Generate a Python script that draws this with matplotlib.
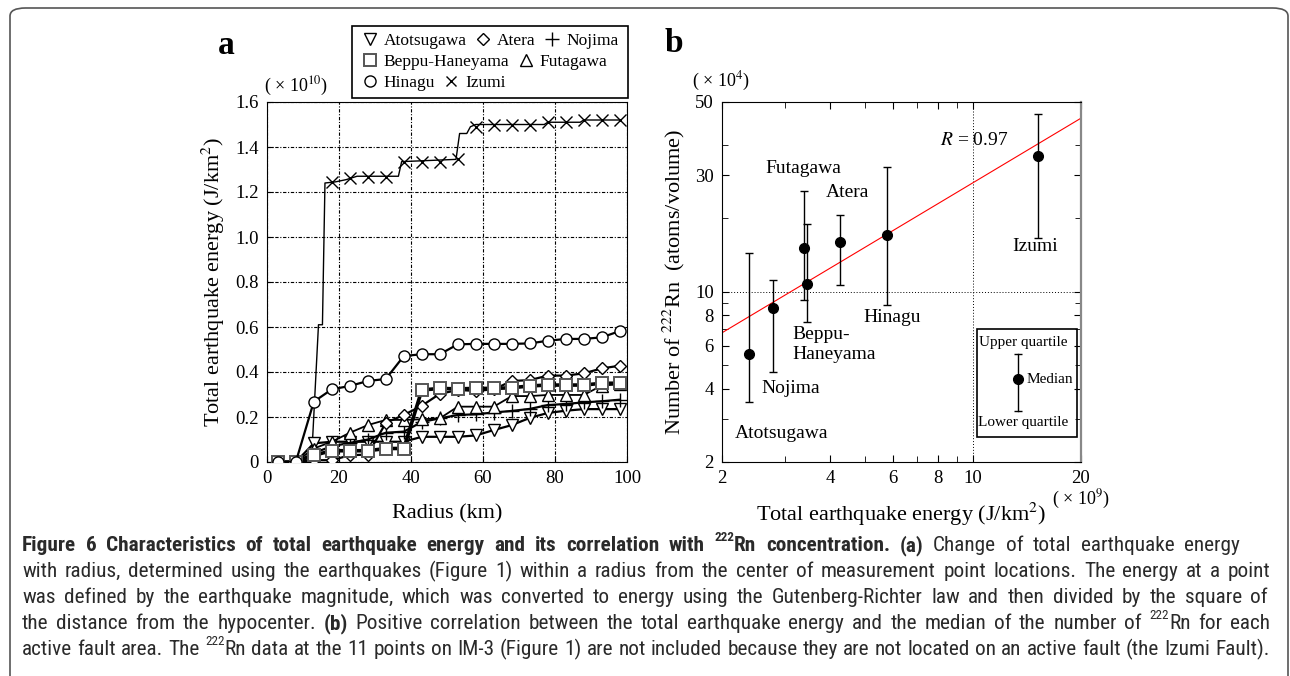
import matplotlib
matplotlib.use("Agg")
from matplotlib import pyplot as plt
from matplotlib import font_manager
from matplotlib.lines import Line2D
from matplotlib.patches import Rectangle, FancyBboxPatch
from matplotlib.ticker import FixedLocator, FixedFormatter, NullFormatter
import numpy as np

plt.rcParams['font.family'] = ['Liberation Serif', 'DejaVu Sans']
plt.rcParams['mathtext.fontset'] = 'stix'

W, H, DPI = 1290, 676, 100

# ---- panel a: cumulative energy vs radius (x 1e10 J/km2)
radius = [3, 8, 13, 18, 23, 28, 33, 38, 43, 48, 53, 58, 63, 68, 73, 78, 83, 88, 93, 98]
atotsugawa = [0, 0, 0.083, 0.09, 0.09, 0.09, 0.09, 0.09, 0.112, 0.112, 0.112, 0.118, 0.142, 0.164,
              0.196, 0.218, 0.228, 0.235, 0.235, 0.235]
atera = [0, 0, 0.008, 0.008, 0.03, 0.033, 0.174, 0.209, 0.25, 0.303, 0.32, 0.316, 0.323, 0.36,
         0.364, 0.384, 0.384, 0.394, 0.416, 0.428]
nojima = [0, 0, 0.04, 0.07, 0.085, 0.1, 0.13, 0.135, 0.178, 0.194, 0.209, 0.212, 0.22, 0.227,
          0.236, 0.253, 0.258, 0.265, 0.27, 0.277]
beppu = [0, 0, 0.03, 0.05, 0.05, 0.05, 0.06, 0.06, 0.32, 0.327, 0.325, 0.327, 0.327, 0.33,
         0.338, 0.342, 0.342, 0.342, 0.35, 0.35]
futagawa = [0, 0, 0.06, 0.09, 0.13, 0.164, 0.187, 0.187, 0.19, 0.194, 0.246, 0.246, 0.246, 0.293,
            0.293, 0.298, 0.298, 0.298, 0.34, 0.345]
hinagu = [0, 0, 0.268, 0.323, 0.338, 0.36, 0.369, 0.471, 0.479, 0.479, 0.523, 0.525, 0.525, 0.525,
          0.527, 0.539, 0.547, 0.547, 0.554, 0.582]
izumi = [0, 0, 0.03, 1.243, 1.261, 1.268, 1.268, 1.335, 1.335, 1.335, 1.345, 1.49, 1.50, 1.50,
         1.50, 1.512, 1.512, 1.52, 1.52, 1.52]
# Izumi curve is a finer step line than its markers
izumi_line_r = [3, 8, 11, 12.5, 14.3, 15.4, 16.1, 19, 22, 25, 36.5, 37.4, 52.5, 53.5, 55.5, 56.5,
                58, 77, 78, 87, 88, 98]
izumi_line_e = [0, 0, 0, 0.05, 0.61, 0.61, 1.24, 1.245, 1.255, 1.27, 1.27, 1.335, 1.345, 1.46,
                1.46, 1.49, 1.50, 1.50, 1.51, 1.51, 1.52, 1.52]

# ---- panel b: Rn vs energy (x 1e9 J/km2, x 1e4 atoms/volume)
areas = ['Atotsugawa', 'Nojima', 'Futagawa', 'Beppu-Haneyama', 'Atera', 'Hinagu', 'Izumi']
energy = [2.38, 2.77, 3.38, 3.44, 4.25, 5.78, 15.2]
rn_median = [5.55, 8.54, 15.05, 10.75, 15.93, 17.07, 36.1]
rn_upper = [14.4, 11.2, 25.9, 19.0, 20.6, 32.5, 53.8]
rn_lower = [3.52, 4.70, 9.27, 7.53, 10.6, 8.82, 16.6]
fit_x = [2, 20]
fit_y = [6.78, 51.5]

fig = plt.figure(figsize=(W / DPI, H / DPI), dpi=DPI)


def fx(px):
    return px / W


def fy(py):
    return 1 - py / H


# outer rounded frame
fig.patches.append(FancyBboxPatch((fx(10), fy(700)), fx(1278), 692 / H,
                                  boxstyle="round,pad=0,rounding_size=0.012",
                                  transform=fig.transFigure, fill=False,
                                  edgecolor='#555555', lw=1.2))

# ================= panel a
axa = fig.add_axes([fx(267), fy(462), 360 / W, 360 / H])
axa.plot(izumi_line_r, izumi_line_e, color='k', lw=1.0, zorder=2)
axa.plot(radius, izumi, ls='none', marker='x', ms=8, mec='k', mew=1.0, zorder=3)
styles = [
    (atotsugawa, 'v', 8, 'k', 1.6),
    (nojima, '+', 10, 'k', 1.6),
    (futagawa, '^', 8, 'k', 1.3),
    (atera, 'D', 6.5, 'k', 1.6),
    (beppu, 's', 8, '#555555', 2.6),
    (hinagu, 'o', 8, 'k', 1.6),
]
for vals, m, ms, ec, lw in styles:
    axa.plot(radius, vals, color='k', lw=lw, marker=m, ms=ms, mfc='white', mec=ec,
             mew=1.4 if m == 's' else 1.0, zorder=3)

axa.set_xlim(0, 100)
axa.set_ylim(0, 1.6)
axa.set_xticks([0, 20, 40, 60, 80, 100])
axa.set_yticks([0, 0.2, 0.4, 0.6, 0.8, 1.0, 1.2, 1.4, 1.6])
axa.set_yticklabels(['0', '0.2', '0.4', '0.6', '0.8', '1.0', '1.2', '1.4', '1.6'])
axa.tick_params(direction='in', length=4, labelsize=13.5, pad=6)
axa.grid(True, color='k', lw=0.8, ls=(0, (3, 1.5, 1, 1.5)))
axa.set_axisbelow(True)
axa.set_xlabel('Radius (km)', fontsize=16, labelpad=12)
axa.set_ylabel('Total earthquake energy (J/km$^2$)', fontsize=16, labelpad=6)
fig.text(fx(296), fy(86), '( × 10$^{10}$)', fontsize=13, ha='center', va='center')
fig.text(fx(226), fy(45), 'a', fontsize=24, fontweight='bold', ha='center', va='center')

# legend box of panel a, three irregular rows
fig.patches.append(Rectangle((fx(352), fy(98)), 276 / W, 72 / H, transform=fig.transFigure,
                             fill=False, edgecolor='k', lw=1.2, zorder=5))
h = {
    'Atotsugawa': Line2D([], [], ls='none', marker='v', ms=8, mfc='white', mec='k'),
    'Atera': Line2D([], [], ls='none', marker='D', ms=6.5, mfc='white', mec='k'),
    'Nojima': Line2D([], [], ls='none', marker='+', ms=10, mec='k'),
    'Beppu-Haneyama': Line2D([], [], ls='none', marker='s', ms=8, mfc='white', mec='#555555', mew=1.4),
    'Futagawa': Line2D([], [], ls='none', marker='^', ms=8, mfc='white', mec='k'),
    'Hinagu': Line2D([], [], ls='none', marker='o', ms=8, mfc='white', mec='k'),
    'Izumi': Line2D([], [], ls='none', marker='x', ms=7, mec='k'),
}
rows = [(['Atotsugawa', 'Atera', 'Nojima'], 41), (['Beppu-Haneyama', 'Futagawa'], 62),
        (['Hinagu', 'Izumi'], 83)]
for names, ypx in rows:
    fig.legend([h[n] for n in names], names, loc='center left',
               bbox_to_anchor=(fx(361), fy(ypx)), ncol=len(names), frameon=False,
               fontsize=12.5, handlelength=1.0, handletextpad=0.3, columnspacing=0.45,
               borderpad=0, borderaxespad=0)

# ================= panel b
axb = fig.add_axes([fx(722), fy(462), 359 / W, 360 / H])
axb.set_xscale('log')
axb.set_yscale('log')
err = [np.array(rn_median) - np.array(rn_lower), np.array(rn_upper) - np.array(rn_median)]
axb.errorbar(energy, rn_median, yerr=err, fmt='o', color='k', ms=7, elinewidth=1.0,
             capsize=2.6, capthick=1.0, zorder=3)
axb.plot(fit_x, fit_y, color='red', lw=0.8, zorder=2)
axb.axvline(10, color='k', lw=0.7, ls=(0, (1, 2)), zorder=1)
axb.axhline(10, color='k', lw=0.7, ls=(0, (1, 2)), zorder=1)

axb.set_xlim(2, 20)
axb.set_ylim(2, 60)
axb.xaxis.set_major_locator(FixedLocator([2, 4, 6, 8, 10, 20]))
axb.xaxis.set_major_formatter(FixedFormatter(['2', '4', '6', '8', '10', '20']))
axb.xaxis.set_minor_locator(FixedLocator([3, 5, 7, 9]))
axb.xaxis.set_minor_formatter(NullFormatter())
axb.yaxis.set_major_locator(FixedLocator([2, 4, 6, 8, 10, 30, 60]))
axb.yaxis.set_major_formatter(FixedFormatter(['2', '4', '6', '8', '10', '30', '50']))
axb.yaxis.set_minor_locator(FixedLocator([3, 5, 7, 9, 20, 40]))
axb.yaxis.set_minor_formatter(NullFormatter())
axb.tick_params(which='both', direction='in', top=True, right=True, labelsize=13.5, pad=6)
axb.tick_params(which='major', length=5)
axb.tick_params(which='minor', length=4)
axb.spines['right'].set_color('#888888')
axb.spines['right'].set_linewidth(1.6)
axb.set_xlabel('Total earthquake energy (J/km$^2$)', fontsize=16, labelpad=10)
axb.set_ylabel('Number of $^{222}$Rn  (atoms/volume)', fontsize=16, labelpad=6)
fig.text(fx(721), fy(81), '( × 10$^{4}$)', fontsize=13, ha='center', va='center')
fig.text(fx(1081), fy(499), '( × 10$^{9}$)', fontsize=13, ha='center', va='center')
fig.text(fx(674), fy(43), 'b', fontsize=24, fontweight='bold', ha='center', va='center')

labels_b = [
    ('Futagawa', 3.36, 31.9, 'center'),
    ('Atera', 4.47, 25.4, 'center'),
    ('Izumi', 14.9, 15.3, 'center'),
    ('Hinagu', 5.94, 7.85, 'center'),
    ('Beppu-\nHaneyama', 3.15, 6.06, 'left'),
    ('Nojima', 3.11, 4.01, 'center'),
    ('Atotsugawa', 2.93, 2.63, 'center'),
]
for txt, x, y, ha in labels_b:
    axb.text(x, y, txt, fontsize=14, ha=ha, va='center', linespacing=1.25)
axb.text(10.1, 41.8, '$R$ = 0.97', fontsize=14, ha='center', va='center')

# key for the error bars
axb.add_patch(Rectangle((0.7095, 0.070), 0.2785, 0.299, transform=axb.transAxes,
                        fill=False, edgecolor='k', lw=1.2))
axb.plot([0.8237, 0.8237], [0.1417, 0.299], transform=axb.transAxes, color='k', lw=1.0,
         marker='_', ms=5.2, mew=1.0)
axb.plot([0.8237], [0.2297], transform=axb.transAxes, color='k', marker='o', ms=7, ls='none')
axb.text(0.838, 0.331, 'Upper quartile', transform=axb.transAxes, fontsize=11,
         ha='center', va='center')
axb.text(0.849, 0.2297, 'Median', transform=axb.transAxes, fontsize=11, ha='left', va='center')
axb.text(0.838, 0.109, 'Lower quartile', transform=axb.transAxes, fontsize=11,
         ha='center', va='center')

# ================= caption (justified lines)
# look for a condensed sans face, otherwise fall back to Liberation Sans
cap_family, cap_stretch = 'Liberation Sans', 'normal'
names = {f.name for f in font_manager.fontManager.ttflist}
narrow = sorted({f.name for f in font_manager.fontManager.ttflist
                 if ('Narrow' in f.name or 'Condensed' in f.name) and 'Mono' not in f.name
                 and 'Serif' not in f.name})
for pref in ['Liberation Sans Narrow', 'Noto Sans Condensed', 'Roboto Condensed',
             'Open Sans Condensed', 'DejaVu Sans Condensed']:
    if pref in names:
        cap_family = pref
        break
else:
    if narrow:
        cap_family = narrow[0]
    else:
        cond = [f for f in font_manager.fontManager.ttflist
                if f.name in ('Noto Sans', 'DejaVu Sans', 'Roboto', 'Open Sans')
                and f.stretch in ('condensed', 'semi-condensed', 'extra-condensed')]
        if cond:
            cap_family, cap_stretch = cond[0].name, 'condensed'
cap_fonts = [cap_family, 'Liberation Sans', 'DejaVu Sans']

# (segments, baseline y in px, right edge in px)
caption = [
    ([('Figure 6 Characteristics of total earthquake energy and its correlation with ', 'b'),
      ('222', 'bs'), ('Rn concentration. (a) ', 'b'), ('Change of total earthquake energy', 'n')],
     551, 1240),
    ([('with radius, determined using the earthquakes (Figure 1) within a radius from the center '
       'of measurement point locations. The energy at a point', 'n')], 577, 1270),
    ([('was defined by the earthquake magnitude, which was converted to energy using the '
       'Gutenberg-Richter law and then divided by the square of', 'n')], 603, 1268),
    ([('the distance from the hypocenter. ', 'n'), ('(b)', 'b'),
      (' Positive correlation between the total earthquake energy and the median of the number of ', 'n'),
      ('222', 'ns'), ('Rn for each', 'n')], 629, 1270),
    ([('active fault area. The ', 'n'), ('222', 'ns'),
      ('Rn data at the 11 points on IM-3 (Figure 1) are not included because they are not located '
       'on an active fault (the Izumi Fault).', 'n')], 655, 1270),
]
x0 = 22
renderer = fig.canvas.get_renderer()


def split_words(segments):
    words, cur = [], []
    for text, style in segments:
        parts = text.split(' ')
        for i, p in enumerate(parts):
            if i > 0 and cur:
                words.append(cur)
                cur = []
            if p:
                cur.append((p, style))
    if cur:
        words.append(cur)
    return words


def make_line(segments, fs):
    out = []
    for word in split_words(segments):
        row = []
        for p, style in word:
            t = fig.text(0, 0, p, family=cap_fonts, fontstretch=cap_stretch, color='#2a2a2a',
                         fontsize=fs * (0.62 if 's' in style else 1.0),
                         fontweight='bold' if 'b' in style else 'normal', va='baseline')
            row.append((t, style, t.get_window_extent(renderer).width))
        out.append(row)
    return out


# size so that the widest line fills its measure with ordinary spaces
fs = 11.0
scale = 10.0
for segs, _, x1 in caption:
    tmp = make_line(segs, fs)
    space_w = 0.25 * fs * DPI / 72
    wsum = sum(w for row in tmp for _, _, w in row) + space_w * (len(tmp) - 1)
    scale = min(scale, (x1 - x0) / wsum)
    for row in tmp:
        for t, _, _ in row:
            t.remove()
fs = min(fs * scale, 15.5)

for segs, ypx, x1 in caption:
    line = make_line(segs, fs)
    total = sum(w for row in line for _, _, w in row)
    gap = (x1 - x0 - total) / (len(line) - 1)
    x = x0
    for row in line:
        for t, style, w in row:
            yy = ypx - (0.45 * fs * DPI / 72 if 's' in style else 0)
            t.set_position((fx(x), fy(yy)))
            x += w
        x += gap

fig.savefig('out.png', dpi=DPI)
